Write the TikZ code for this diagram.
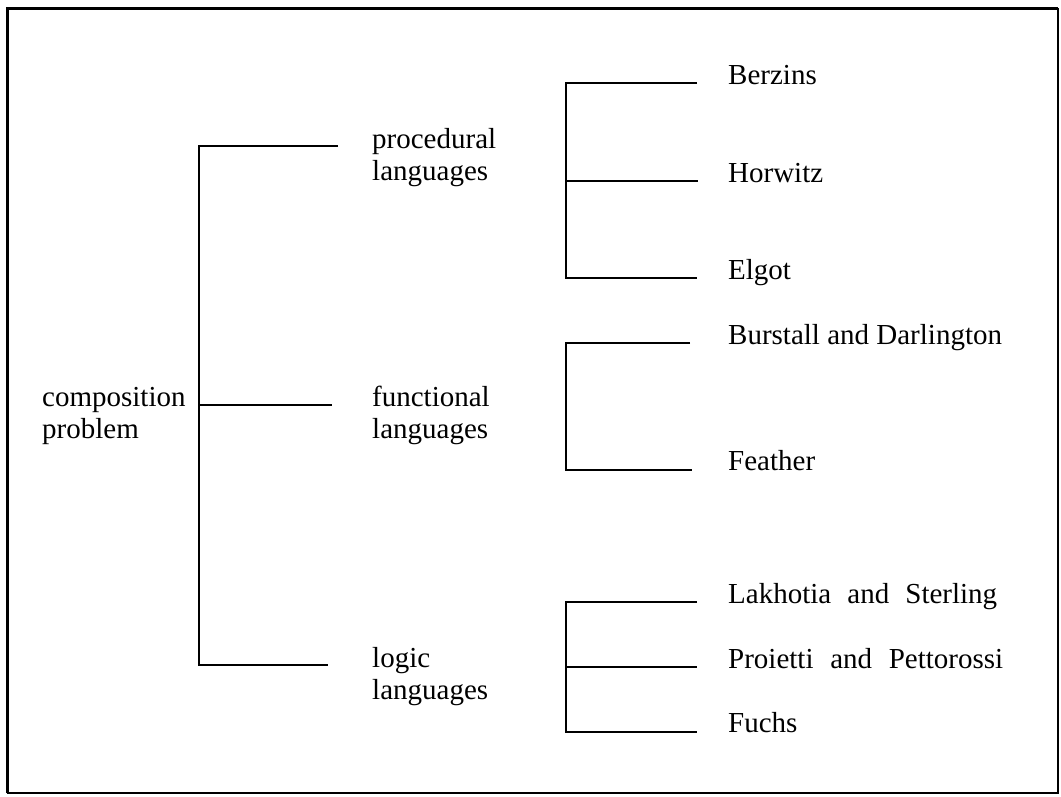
\documentclass[tikz,border=0pt]{standalone}
\usepackage{fontspec}
\setmainfont{Liberation Serif}
\begin{document}
\begin{tikzpicture}[x=1pt,y=-1pt,
  lbl/.style={anchor=base west,inner sep=0pt,align=left,
    font=\fontsize{29pt}{32pt}\selectfont},
  tree/.style={line width=1.8pt,line cap=butt,line join=miter}]
\useasboundingbox (0,0) rectangle (1061,796);
% outer frame
\draw[line width=3pt] (7,793) -- (7,8) -- (1058,8);
\draw[line width=2pt] (1058,8) -- (1058,793) -- (7,793);

% labels (two-line labels are placed by the baseline of their last line)
\node[lbl] (root) at (42,438) {composition\\problem};
\node[lbl] (proc) at (372,180) {procedural\\languages};
\node[lbl] (func) at (372,438) {functional\\languages};
\node[lbl] (logic) at (372,699) {logic\\languages};

\node[lbl] (berzins) at (728,84) {Berzins};
\node[lbl] (horwitz) at (728,182) {Horwitz};
\node[lbl] (elgot) at (728,279) {Elgot};
\node[lbl] (burstall) at (728,344) {Burstall and Darlington};
\node[lbl] (feather) at (728,470) {Feather};
\node[lbl] (lakhotia) at (728,603) {\makebox[269pt][s]{Lakhotia and Sterling}};
\node[lbl] (proietti) at (728,668) {\makebox[275pt][s]{Proietti and Pettorossi}};
\node[lbl] (fuchs) at (728,732) {Fuchs};

% first level bracket
\coordinate (r0) at (199,405);
\coordinate (p0) at (199,146);
\coordinate (l0) at (199,665);
\coordinate (p1) at (338,146);
\coordinate (f1) at (332,405);
\coordinate (l1) at (328,665);
\draw[tree] (p1) -- (p0) -- (l0) -- (l1);
\draw[tree] (r0) -- (f1);

% procedural languages
\coordinate (pb0) at (566,83);
\coordinate (ph0) at (566,181);
\coordinate (pe0) at (566,278);
\coordinate (pb1) at (697,83);
\coordinate (ph1) at (698,181);
\coordinate (pe1) at (697,278);
\draw[tree] (pb1) -- (pb0) -- (pe0) -- (pe1);
\draw[tree] (ph0) -- (ph1);

% functional languages
\coordinate (fb0) at (566,343);
\coordinate (ff0) at (566,470);
\coordinate (fb1) at (690,343);
\coordinate (ff1) at (692,470);
\draw[tree] (fb1) -- (fb0) -- (ff0) -- (ff1);

% logic languages
\coordinate (ll0) at (566,602);
\coordinate (lp0) at (566,667);
\coordinate (lf0) at (566,732);
\coordinate (ll1) at (697,602);
\coordinate (lp1) at (697,667);
\coordinate (lf1) at (697,732);
\draw[tree] (ll1) -- (ll0) -- (lf0) -- (lf1);
\draw[tree] (lp0) -- (lp1);
\end{tikzpicture}
\end{document}
